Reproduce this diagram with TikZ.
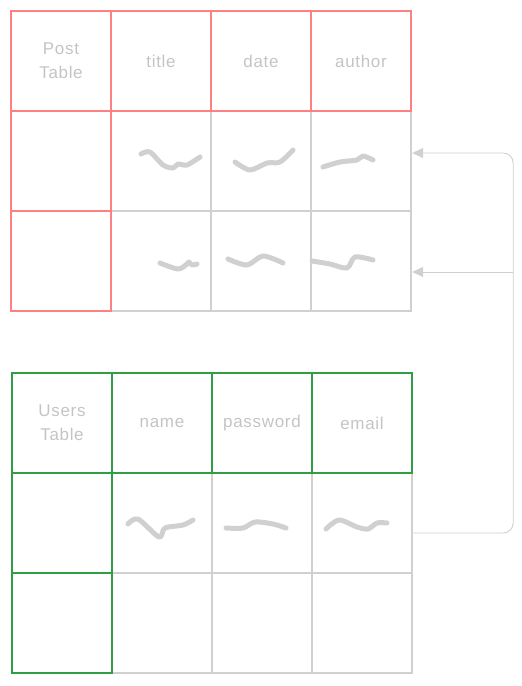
\documentclass[tikz,border=0pt]{standalone}
\usepackage{fontspec}
\setmainfont{Liberation Sans}
\usepackage{xcolor}
\usetikzlibrary{arrows.meta}

\definecolor{postred}{HTML}{FF8080}
\definecolor{usergreen}{HTML}{2F9E44}
\definecolor{gridgray}{HTML}{D0D0D0}
\definecolor{labelgray}{HTML}{C4C4C4}

\tikzset{
  cell/.style={draw=gridgray, line width=2.4pt, minimum size=100pt, inner sep=0pt,
               font=\fontsize{17}{24}\selectfont\addfontfeature{LetterSpace=4}, text=labelgray, align=center},
  postcell/.style={cell, draw=postred, line width=2.8pt},
  usercell/.style={cell, draw=usergreen, line width=2.8pt},
  squiggle/.style={draw=gridgray, line width=5pt, line cap=round, line join=round},
  link/.style={draw=gridgray, line width=0.9pt, rounded corners=10pt}
}

\begin{document}
\begin{tikzpicture}[x=1pt, y=-1pt]
        \useasboundingbox (0,0) rectangle (522,686);

        % Post table: gray body cells first
        \foreach \r in {1,2} {
            \foreach \c in {1,2,3} {
                \node[cell] (p-\r-\c) at (61+100*\c, 61+100*\r) {};
            }
        }
        % Post table: header row and first column in red
        \node[postcell] (p-0-0) at (61,61) {Post\\Table};
        \foreach \c/\txt in {1/title, 2/date, 3/author} {
            \node[postcell] (p-0-\c) at (61+100*\c, 61) {\txt};
        }
        \foreach \r in {1,2} {
            \node[postcell] (p-\r-0) at (61, 61+100*\r) {};
        }

        % Users table: gray body cells first
        \foreach \r in {1,2} {
            \foreach \c in {1,2,3} {
                \node[cell] (u-\r-\c) at (62+100*\c, 423+100*\r) {};
            }
        }
        % Users table: header row and first column in green
        \node[usercell] (u-0-0) at (62,423) {Users\\Table};
        \foreach \c/\txt in {1/name, 2/password, 3/email} {
            \node[usercell] (u-0-\c) at (62+100*\c, 423) {\txt};
        }
        \foreach \r in {1,2} {
            \node[usercell] (u-\r-0) at (62, 423+100*\r) {};
        }

        % Scribbled values
        \draw[squiggle] plot[smooth] coordinates {(141,154) (150,152) (163,165) (173,168) (178,164) (187,165) (200,157)};
        \draw[squiggle] plot[smooth] coordinates {(235,162) (250,170) (267,163) (280,162) (293,150)};
        \draw[squiggle] plot[smooth] coordinates {(323,167) (340,162) (357,160) (363,156) (373,160)};
        \draw[squiggle] plot[smooth] coordinates {(160,263) (178,269) (187,264) (189,262) (192,265) (197,264)};
        \draw[squiggle] plot[smooth] coordinates {(228,259) (247,265) (263,256) (283,263)};
        \draw[squiggle] plot[smooth] coordinates {(312,261) (330,264) (347,268) (355,257) (373,260)};
        \draw[squiggle] plot[smooth] coordinates {(128,524) (138,519) (159,537) (165,528) (183,525) (193,520)};
        \draw[squiggle] plot[smooth] coordinates {(226,528) (243,528) (255,522) (273,524) (286,528)};
        \draw[squiggle] plot[smooth] coordinates {(326,529) (339,520) (357,527) (368,529) (377,523) (387,523)};

        % Reference from users to post
        \coordinate (out) at ([yshift=-10pt]u-1-3.east);
        \coordinate (in1) at ([yshift=8pt]p-1-3.east);
        \coordinate (in2) at ([yshift=-11pt]p-2-3.east);
        \coordinate (turn) at ([xshift=100pt]out);
        \draw[link, -{Triangle[length=11pt,width=10pt]}] (out) -- (turn) |- (in1);
        \draw[link, -{Triangle[length=11pt,width=10pt]}] (in2 -| turn) -- (in2);
\end{tikzpicture}
\end{document}
